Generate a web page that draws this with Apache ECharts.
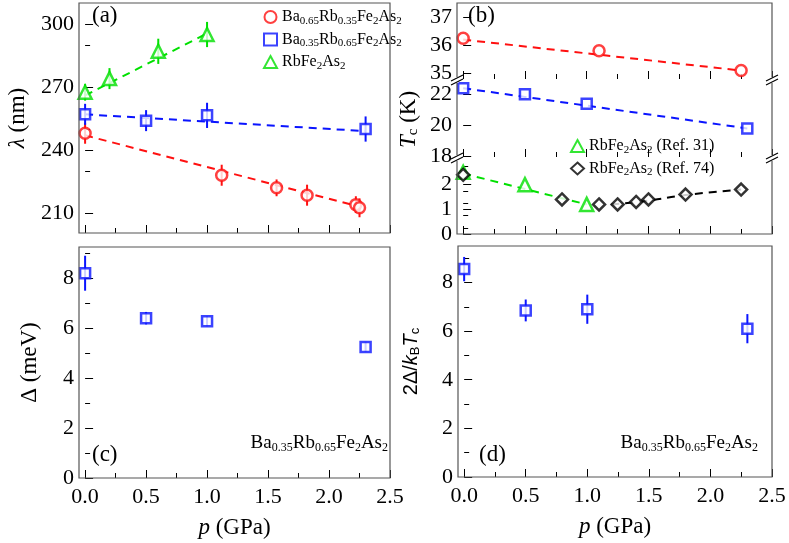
<!DOCTYPE html>
<html><head><meta charset="utf-8">
<script src="https://cdn.jsdelivr.net/npm/echarts@6/dist/echarts.min.js"></script>
<style>html,body{margin:0;background:#fff}#c{width:789px;height:543px}</style>
</head><body><div id="c"></div>
<script>
// ---- data ----
const lamRed = [[0,248,5],[1.12,228,5],[1.57,222,4],[1.82,218.5,5],[2.22,214,4],[2.25,212.5,4.5]];
const lamBlue = [[0,257,5],[0.5,254,5],[1,256.5,6],[2.3,250,6]];
const lamGreen = [[0,267.5,4],[0.2,274,5],[0.6,287,6],[1,295,6]];
const lamRedFit = [[0,247],[2.25,213]];
const lamBlueFit = [[0,257],[2.3,249]];
const lamGreenFit = [[0,266],[1,295.5]];
const tcRed = [[0,36.25],[1.1,35.8],[2.25,35.1]];
const tcBlue = [[0,22.4],[0.5,22.0],[1,21.4],[2.3,19.8]];
const tcGreen = [[0,2.5],[0.5,2.0],[1,1.2]];
const tcBlack = [[0,2.4],[0.8,1.4],[1.1,1.2],[1.25,1.2],[1.4,1.3],[1.5,1.4],[1.8,1.6],[2.25,1.8]];
const tcRedFit = [[0,36.2],[2.25,35.1]];
const tcBlueFit = [[0,22.4],[2.3,19.8]];
const tcGreenFit = [[0,2.45],[1,1.2]];
const tcBlackFit = [[1.2,1.2],[1.5,1.35],[1.8,1.58],[2.25,1.8]];
const gapData = [[0,8.2,0.7],[0.5,6.4,0.25],[1,6.28,0.2],[2.3,5.25,0.2]];
const ratioData = [[0,8.55,0.5],[0.5,6.85,0.45],[1,6.9,0.6],[2.3,6.1,0.6]];
const xTicks = [0,0.5,1,1.5,2,2.5];

const RED='#ff1010', BLUE='#0a14ff', GREEN='#00e000', BLACK='#000';
const F='Liberation Serif';
const rich={n:{fontFamily:F,fontSize:16,color:'#000'},s:{fontFamily:F,fontSize:11,color:'#000',padding:[8,0,0,0]},
  i:{fontFamily:F,fontSize:23,fontStyle:'italic',color:'#000'},ss:{fontFamily:F,fontSize:15,color:'#000',padding:[10,0,0,0]},
  m:{fontFamily:F,fontSize:23,color:'#000'},
  bi:{fontFamily:'Liberation Sans',fontSize:20,fontStyle:'italic',color:'#000'},bs:{fontFamily:'Liberation Sans',fontSize:13,color:'#000',padding:[9,0,0,0]},
  bm:{fontFamily:'Liberation Sans',fontSize:20,color:'#000'},
  an:{fontFamily:F,fontSize:19,color:'#000'},as:{fontFamily:F,fontSize:12,color:'#000',padding:[9,0,0,0]}};
function chem(name,n,s){
  return name.split(/(\d+(?:\.\d+)?)/).filter(x=>x).map((p,k)=>/^\d/.test(p)&&k>0?`{${s}|${p}}`:`{${n}|${p}}`).join('');
}
function chemL(name){
  const idx=name.indexOf(' ');
  if(idx<0) return chem(name,'n','s');
  return chem(name.slice(0,idx),'n','s')+`{n|${name.slice(idx)}}`;
}
const grids=[
  {left:79,top:3,width:311,height:230},
  {left:79,top:247,width:311,height:231},
  {left:457,top:3,width:315,height:76},
  {left:457,top:82,width:315,height:75},
  {left:457,top:160,width:315,height:74},
  {left:458,top:246,width:314,height:231}
];
function xAx(g,labels,name){
  return {type:'value',gridIndex:g,min:-0.05,max:2.5,
    axisLine:{show:false},splitLine:{show:false},
    axisTick:{show:true,inside:true,length:8,customValues:xTicks,lineStyle:{color:'#000'}},
    minorTick:{show:true,splitNumber:2,length:5,lineStyle:{color:'#000'}},
    axisLabel:{show:labels,customValues:xTicks,fontFamily:F,fontSize:22,color:'#000',margin:8,formatter:v=>v.toFixed(1)},
    name:name||'',nameLocation:'middle',nameGap:38,
    nameTextStyle:{rich:rich}};
}
function yAx(g,min,max,ticks,name,gap,minor){
  return {type:'value',gridIndex:g,min:min,max:max,
    axisLine:{show:false},splitLine:{show:false},
    axisTick:{show:true,inside:true,length:8,customValues:ticks,lineStyle:{color:'#000'}},
    minorTick:{show:!!minor,splitNumber:2,length:5,lineStyle:{color:'#000'}},
    axisLabel:{customValues:ticks,fontFamily:F,fontSize:22,color:'#000',margin:5},
    name:name||'',nameLocation:'middle',nameGap:gap||40,nameTextStyle:{rich:rich}};
}
function sc(name,data,g,sym,color,size){
  return {type:'scatter',name:name,data:data.map(d=>[d[0],d[1]]),xAxisIndex:g,yAxisIndex:g,symbol:sym,symbolSize:size||12,
    itemStyle:{color:'#fff',borderColor:color,borderWidth:2.5},z:5};
}
function fit(data,g,color){
  return {type:'line',data:data,xAxisIndex:g,yAxisIndex:g,symbol:'none',smooth:data.length>2,
    lineStyle:{color:color,width:2,type:[8,6]},z:3,silent:true};
}
function err(data,g,color){
  return {type:'custom',xAxisIndex:g,yAxisIndex:g,data:data,z:4,silent:true,
    renderItem:(p,api)=>{const x=api.value(0),y=api.value(1),e=api.value(2);
      const a=api.coord([x,y-e]),b=api.coord([x,y+e]);
      return {type:'line',shape:{x1:a[0],y1:a[1],x2:b[0],y2:b[1]},style:{stroke:color,lineWidth:2}};}};
}
const xAxes=[xAx(0,false),xAx(1,true,'{i|p}{m| (GPa)}'),xAx(2,false),xAx(3,false),xAx(4,false),xAx(5,true,'{i|p}{m| (GPa)}')];
const yAxes=[
  yAx(0,200.5,310,[210,240,270,300],'{i|λ}{m| (nm)}',50,true),
  yAx(1,0,9.25,[0,2,4,6,8],'{m|Δ (meV)}',38,true),
  yAx(2,34.8,37.5,[35,36,37],'',0,false),
  yAx(3,17.95,22.8,[18,20,22],'{i|T}{ss|c}{m| (K)}',36,false),
  yAx(4,0,3,[0,1,2],'',0,true),
  yAx(5,0,9.5,[0,2,4,6,8],'{bm|2Δ/}{bi|k}{bs|B}{bi|T}{bs|c}',36,true)
];
const series=[
  fit(lamRedFit,0,RED),fit(lamBlueFit,0,BLUE),fit(lamGreenFit,0,GREEN),
  err(lamRed,0,RED),err(lamBlue,0,BLUE),err(lamGreen,0,GREEN),
  sc('Ba0.65Rb0.35Fe2As2',lamRed,0,'circle',RED,11),
  sc('Ba0.35Rb0.65Fe2As2',lamBlue,0,'rect',BLUE,10),
  sc('RbFe2As2',lamGreen,0,'triangle',GREEN,13),
  err(gapData,1,BLUE),sc('gap',gapData,1,'rect',BLUE,10),
  fit(tcRedFit,2,RED),sc('tcr',tcRed,2,'circle',RED,11),
  fit(tcBlueFit,3,BLUE),sc('tcb',tcBlue,3,'rect',BLUE,10),
  fit(tcGreenFit,4,GREEN),fit(tcBlackFit,4,BLACK),
  sc('RbFe2As2 (Ref. 31)',tcGreen,4,'triangle',GREEN,13),
  sc('RbFe2As2 (Ref. 74)',tcBlack,4,'diamond',BLACK,12),
  err(ratioData,5,BLUE),sc('ratio',ratioData,5,'rect',BLUE,10)
];
function breakMarks(x,y){
  return [{type:'rect',shape:{x:x-1.5,y:y-1,width:3,height:6},style:{fill:'#fff'},z:11},
          {type:'line',shape:{x1:x-6,y1:y+3,x2:x+6,y2:y-3},style:{stroke:'#000',lineWidth:1.2},z:12},
          {type:'line',shape:{x1:x-6,y1:y+7,x2:x+6,y2:y+1},style:{stroke:'#000',lineWidth:1.2},z:12}];
}
const frame=(g)=>({type:'rect',shape:{x:g.left,y:g.top,width:g.width,height:g.height},style:{fill:'none',stroke:'#555',lineWidth:1.2},z:10});
const graphic=[
  frame(grids[0]),frame(grids[1]),frame(grids[5]),
  {type:'rect',shape:{x:457,y:3,width:315,height:231},style:{fill:'none',stroke:'#555',lineWidth:1.2},z:10},
  ...breakMarks(457,78),...breakMarks(772,78),...breakMarks(457,156),...breakMarks(772,156),
  {type:'text',left:92,top:4,style:{text:'(a)',font:'23px '+F,fill:'#000'}},
  {type:'text',left:468,top:4,style:{text:'(b)',font:'23px '+F,fill:'#000'}},
  {type:'text',left:92,top:443,style:{text:'(c)',font:'23px '+F,fill:'#000'}},
  {type:'text',left:479,top:443,style:{text:'(d)',font:'23px '+F,fill:'#000'}},
  {type:'text',right:789-388,top:434,style:{text:chem('Ba0.35Rb0.65Fe2As2','an','as'),rich:rich}},
  {type:'text',right:789-758,top:434,style:{text:chem('Ba0.35Rb0.65Fe2As2','an','as'),rich:rich}}
];
const legendBase={orient:'vertical',itemGap:5,itemWidth:13,itemHeight:12,formatter:chemL,textStyle:{rich:rich}};
const chart=echarts.init(document.getElementById('c'));
chart.setOption({animation:false,grid:grids,xAxis:xAxes,yAxis:yAxes,series:series,graphic:graphic,
  legend:[
    Object.assign({},legendBase,{left:258,top:4,data:['Ba0.65Rb0.35Fe2As2','Ba0.35Rb0.65Fe2As2','RbFe2As2']}),
    Object.assign({},legendBase,{left:565,top:133,data:['RbFe2As2 (Ref. 31)','RbFe2As2 (Ref. 74)']})
  ]});
</script></body></html>
